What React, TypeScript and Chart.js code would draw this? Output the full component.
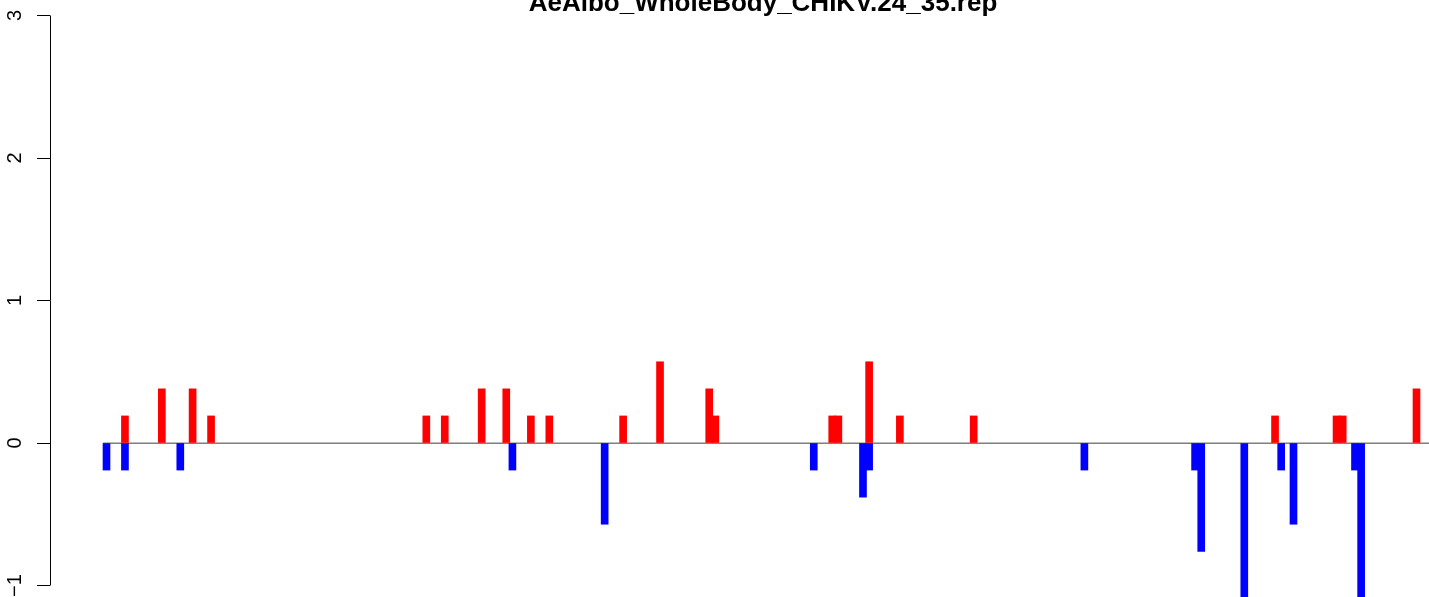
import React, { useEffect, useRef } from "react";
import { Chart, registerables } from "chart.js";

Chart.register(...registerables);

const TITLE = "AeAlbo_WholeBody_CHIKV.24_35.rep";

// positive (red) bars: position index and value
const upPositions = [3, 9, 14, 17, 52, 55, 61, 65, 69, 72, 84, 90, 98, 99, 118, 119, 124, 129, 141, 190, 200, 201, 213];
const upValues = [0.19, 0.38, 0.38, 0.19, 0.19, 0.19, 0.38, 0.38, 0.19, 0.19, 0.19, 0.57, 0.38, 0.19, 0.19, 0.19, 0.57, 0.19, 0.19, 0.19, 0.19, 0.19, 0.38];

// negative (blue) bars: position index and value
const downPositions = [0, 3, 12, 66, 81, 115, 123, 124, 159, 177, 178, 185, 191, 193, 203, 204];
const downValues = [-0.19, -0.19, -0.19, -0.19, -0.57, -0.19, -0.38, -0.19, -0.19, -0.19, -0.76, -1.14, -0.19, -0.57, -0.19, -1.14];

const yTicks = [-1, 0, 1, 2, 3];

const FONT = "'Liberation Sans', Arial, Helvetica, sans-serif";

export default function App() {
  const ref = useRef<HTMLCanvasElement | null>(null);

  useEffect(() => {
    if (!ref.current) return;
    const firstPos = Math.min(...upPositions, ...downPositions);

    const decorations = {
      id: "decorations",
      beforeDatasetsDraw(chart: any) {
        const ctx = chart.ctx;
        const xs = chart.scales.x;
        const ys = chart.scales.y;
        const y0 = Math.round(ys.getPixelForValue(0));
        const xStart = Math.round(xs.getPixelForValue(firstPos) - 3.5);
        const xEnd = chart.chartArea.right;
        ctx.save();
        ctx.fillStyle = "#bdbdbd";
        ctx.fillRect(xStart, y0 - 1, xEnd - xStart, 1);
        ctx.fillStyle = "#808080";
        ctx.fillRect(xStart, y0, xEnd - xStart, 1);
        ctx.restore();
      },
      afterDraw(chart: any) {
        const ctx = chart.ctx;
        const ys = chart.scales.y;
        const axisX = Math.floor(ys.right) + 0.5;
        ctx.save();
        // axis line between first and last tick
        ctx.strokeStyle = "#000";
        ctx.lineWidth = 1;
        ctx.beginPath();
        ctx.moveTo(axisX, ys.getPixelForValue(yTicks[yTicks.length - 1]));
        ctx.lineTo(axisX, ys.getPixelForValue(yTicks[0]));
        ctx.stroke();
        // rotated tick labels
        ctx.fillStyle = "#000";
        ctx.font = `20px ${FONT}`;
        ctx.textAlign = "center";
        ctx.textBaseline = "alphabetic";
        for (const v of yTicks) {
          const y = ys.getPixelForValue(v);
          ctx.save();
          ctx.translate(21, y);
          ctx.rotate(-Math.PI / 2);
          ctx.fillText(v < 0 ? "\u2212" + Math.abs(v) : String(v), 0, 0);
          ctx.restore();
        }
        // title
        ctx.font = `bold 26px ${FONT}`;
        ctx.textAlign = "center";
        ctx.fillText(TITLE, 763, 11);
        ctx.restore();
      },
    };

    const chart = new Chart(ref.current, {
      type: "bar",
      data: {
        datasets: [
          {
            label: "up",
            data: upPositions.map((p, i) => ({ x: p, y: upValues[i] })),
            backgroundColor: "#ff0000",
            borderWidth: 0,
            barThickness: 7,
            grouped: false,
          } as any,
          {
            label: "down",
            data: downPositions.map((p, i) => ({ x: p, y: downValues[i] })),
            backgroundColor: "#0000ff",
            borderWidth: 0,
            barThickness: 7,
            grouped: false,
          } as any,
        ],
      },
      options: {
        responsive: false,
        animation: false,
        devicePixelRatio: 1,
        layout: { padding: 0 },
        plugins: {
          legend: { display: false },
          tooltip: { enabled: false },
          title: { display: false },
        },
        scales: {
          x: {
            type: "linear",
            display: false,
            offset: false,
            min: -9.1867,
            max: 215.0325,
          },
          y: {
            type: "linear",
            min: -1.0807,
            max: 3.1088,
            afterBuildTicks: (s: any) => {
              s.ticks = yTicks.map((v) => ({ value: v }));
            },
            afterFit: (s: any) => {
              s.width = 50;
            },
            ticks: { display: false },
            grid: {
              drawOnChartArea: false,
              drawTicks: true,
              tickLength: 13,
              color: "#000",
              lineWidth: 1,
            },
            border: { display: false },
          },
        },
      },
      plugins: [decorations],
    });

    return () => chart.destroy();
  }, []);

  return (
    <div style={{ position: "fixed", left: 0, top: 0, width: 1429, height: 597, background: "#fff" }}>
      <canvas ref={ref} width={1429} height={597} style={{ display: "block" }} />
    </div>
  );
}
